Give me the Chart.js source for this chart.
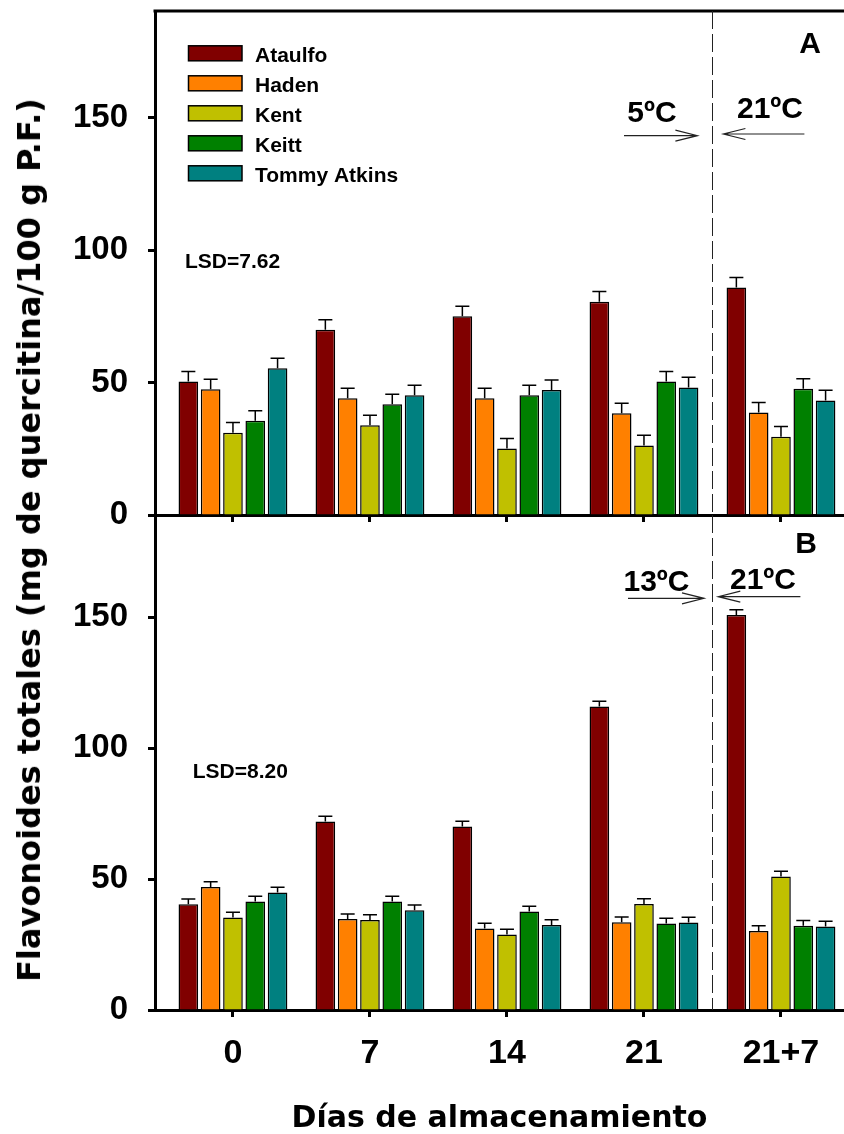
<!DOCTYPE html>
<html>
<head>
<meta charset="utf-8">
<script src="https://cdn.jsdelivr.net/npm/chart.js@4/dist/chart.umd.min.js"></script>
<style>
  html, body { margin: 0; padding: 0; background: #fff; }
  #wrap { position: relative; width: 844px; height: 1134px; overflow: hidden; background: #fff; }
  #cA { position: absolute; left: 0; top: 0; }
  #cB { position: absolute; left: 0; top: 500px; }
  #ytitle {
    position: absolute; left: 29px; top: 540px;
    transform: translate(-50%, -50%) rotate(-90deg);
    font: bold 32px "DejaVu Sans"; line-height: 1; white-space: nowrap; color: #000;
  }
</style>
</head>
<body>
<div id="wrap">
  <canvas id="cA" width="844" height="530"></canvas>
  <canvas id="cB" width="844" height="634"></canvas>
  <div id="ytitle">Flavonoides totales (mg de quercitina/100 g P.F.)</div>
</div>
<script>
// Storage days (x categories) and cultivars
const categories = ['0', '7', '14', '21', '21+7'];
const cultivars = ['Ataulfo', 'Haden', 'Kent', 'Keitt', 'Tommy Atkins'];
const colors = ['#800000', '#FF8000', '#C0C000', '#008000', '#008080'];
const yTicks = [0, 50, 100, 150];

// Panel A: 5 °C storage, then 21 °C
const ataulfoA = [50.4, 70.0, 75.1, 80.6, 85.9];
const hadenA   = [47.5, 44.1, 44.1, 38.4, 38.7];
const kentA    = [31.1, 33.9, 25.1, 26.3, 29.6];
const keittA   = [35.6, 41.8, 45.2, 50.4, 47.7];
const tommyA   = [55.4, 45.2, 47.2, 48.2, 43.3];
const errA     = [3.8, 3.8, 3.8, 3.8, 3.8];

// Panel B: 13 °C storage, then 21 °C
const ataulfoB = [40.4, 72.0, 70.1, 115.9, 150.8];
const hadenB   = [47.0, 34.7, 31.1, 33.5, 30.2];
const kentB    = [35.3, 34.4, 28.8, 40.5, 51.0];
const keittB   = [41.4, 41.4, 37.6, 33.0, 32.2];
const tommyB   = [44.9, 38.1, 32.5, 33.4, 31.9];
const errB     = [2.0, 2.0, 2.0, 2.0, 2.0];

// Divider between cold storage and ripening period (between "21" and "21+7")
const dividerAt = 3.5;

const FONT = '"Liberation Sans", Arial, sans-serif';

function makeSets(series) {
  return series.map((vals, s) => ({
    label: cultivars[s],
    data: vals.map((v, i) => ({ x: i, y: v })),
    backgroundColor: colors[s],
    borderColor: '#000',
    borderWidth: 1.5,
    borderSkipped: 'start',
    categoryPercentage: 0.814,
    barPercentage: 0.88
  }));
}

// Upper error bars (T caps)
function errorBars(err) {
  return {
    id: 'errorBars',
    afterDatasetsDraw(chart) {
      const { ctx, scales: { y } } = chart;
      ctx.save();
      ctx.strokeStyle = '#000';
      ctx.lineWidth = 1.5;
      chart.data.datasets.forEach((ds, i) => {
        const meta = chart.getDatasetMeta(i);
        meta.data.forEach((bar, j) => {
          const top = y.getPixelForValue(ds.data[j].y + err[j]);
          ctx.beginPath();
          ctx.moveTo(bar.x, bar.y);
          ctx.lineTo(bar.x, top);
          ctx.moveTo(bar.x - 7, top);
          ctx.lineTo(bar.x + 7, top);
          ctx.stroke();
        });
      });
      ctx.restore();
    }
  };
}

function arrow(ctx, x0, x1, y) {
  const dir = Math.sign(x1 - x0);
  ctx.beginPath();
  ctx.moveTo(x0, y);
  ctx.lineTo(x1, y);
  ctx.moveTo(x1 - dir * 22, y - 5.5);
  ctx.lineTo(x1, y);
  ctx.lineTo(x1 - dir * 22, y + 5.5);
  ctx.stroke();
}

// Panel letter, LSD note, temperature divider with arrows
function decor(cfg) {
  return {
    id: 'decor',
    afterDraw(chart) {
      const { ctx, chartArea: { left, right, top, bottom }, scales: { x } } = chart;
      const D = Math.round(x.getPixelForValue(dividerAt));
      ctx.save();
      if (cfg.frameTop) {
        ctx.strokeStyle = '#000';
        ctx.lineWidth = 3;
        ctx.beginPath();
        ctx.moveTo(left - 1.5, top);
        ctx.lineTo(right, top);
        ctx.stroke();
      }
      ctx.strokeStyle = '#222';
      ctx.lineWidth = 1;
      ctx.setLineDash([18, 5]);
      ctx.beginPath();
      ctx.moveTo(D + 0.5, top);
      ctx.lineTo(D + 0.5, bottom);
      ctx.stroke();
      ctx.setLineDash([]);
      ctx.strokeStyle = '#222';
      ctx.lineWidth = 1.2;
      arrow(ctx, D + cfg.arrowIn[0], D + cfg.arrowIn[1], top + cfg.arrowIn[2]);
      arrow(ctx, D + cfg.arrowOut[0], D + cfg.arrowOut[1], top + cfg.arrowOut[2]);

      ctx.fillStyle = '#000';
      ctx.textBaseline = 'alphabetic';
      ctx.textAlign = 'center';
      ctx.font = 'bold 30px ' + FONT;
      ctx.fillText(cfg.letter, cfg.letterPos[0], top + cfg.letterPos[1]);
      ctx.fillText(cfg.tempCold, cfg.coldPos[0], top + cfg.coldPos[1]);
      ctx.fillText(cfg.tempRipe, cfg.ripePos[0], top + cfg.ripePos[1]);
      ctx.textAlign = 'left';
      ctx.font = 'bold 21px ' + FONT;
      ctx.fillText(cfg.lsd, cfg.lsdPos[0], top + cfg.lsdPos[1]);
      ctx.restore();
    }
  };
}

// Legend drawn inside the upper panel
const boxLegend = {
  id: 'boxLegend',
  afterDraw(chart) {
    const { ctx, chartArea: { top } } = chart;
    ctx.save();
    ctx.font = 'bold 21px ' + FONT;
    ctx.textAlign = 'left';
    ctx.textBaseline = 'alphabetic';
    chart.data.datasets.forEach((ds, i) => {
      const cy = top + 42.3 + 30 * i;
      ctx.fillStyle = ds.backgroundColor;
      ctx.fillRect(188.5, cy - 7.5, 53.5, 15);
      ctx.strokeStyle = '#000';
      ctx.lineWidth = 1.5;
      ctx.strokeRect(188.5, cy - 7.5, 53.5, 15);
      ctx.fillStyle = '#000';
      ctx.fillText(ds.label, 255, cy + 8.3);
    });
    ctx.restore();
  }
};

function scalesFor(showX, yMax) {
  const axisGrid = {
    drawOnChartArea: false, drawTicks: true, tickLength: 7,
    tickWidth: 3, tickColor: '#000', color: '#000', offset: false
  };
  const axisBorder = { display: true, color: '#000', width: 3 };
  return {
    x: {
      type: 'linear', min: -0.569, max: 4.46, bounds: 'data', offset: false,
      afterBuildTicks: s => { s.ticks = categories.map((c, i) => ({ value: i })); },
      ticks: {
        display: showX, autoSkip: false, maxRotation: 0, color: '#000', padding: 16,
        font: { family: FONT, weight: 'bold', size: 34 },
        callback: v => categories[v]
      },
      grid: axisGrid,
      border: axisBorder,
      title: {
        display: showX, text: 'Días de almacenamiento', color: '#000',
        font: { family: '"DejaVu Sans"', weight: 'bold', size: 30, lineHeight: 1.0 },
        padding: { top: 0, bottom: 0 }
      },
      afterFit: s => { s.height = showX ? 124 : 15; s.paddingLeft = 0; s.paddingRight = 0; }
    },
    y: {
      min: 0, max: yMax,
      afterBuildTicks: s => { s.ticks = yTicks.map(v => ({ value: v })); },
      ticks: { color: '#000', padding: 20, font: { family: FONT, weight: 'bold', size: 33 } },
      grid: axisGrid,
      border: axisBorder,
      afterFit: s => { s.width = 155; s.paddingTop = 0; s.paddingBottom = 0; }
    }
  };
}

new Chart(document.getElementById('cA'), {
  type: 'bar',
  data: { datasets: makeSets([ataulfoA, hadenA, kentA, keittA, tommyA]) },
  options: {
    responsive: false, animation: false,
    layout: { padding: { top: 11, left: 0, right: 0, bottom: 0 } },
    plugins: { legend: { display: false }, tooltip: { enabled: false } },
    scales: scalesFor(false, 190.4)
  },
  plugins: [errorBars(errA), boxLegend, decor({
    frameTop: true, letter: 'A', letterPos: [810, 42],
    lsd: 'LSD=7.62', lsdPos: [185, 257.3],
    tempCold: '5ºC', coldPos: [652, 110.7],
    tempRipe: '21ºC', ripePos: [770, 107.3],
    arrowIn: [-88, -14.6, 124.7], arrowOut: [92.4, 11.4, 123]
  })]
});

new Chart(document.getElementById('cB'), {
  type: 'bar',
  data: { datasets: makeSets([ataulfoB, hadenB, kentB, keittB, tommyB]) },
  options: {
    responsive: false, animation: false,
    layout: { padding: { top: 15, left: 0, right: 0, bottom: 0 } },
    plugins: { legend: { display: false }, tooltip: { enabled: false } },
    scales: scalesFor(true, 189)
  },
  plugins: [errorBars(errB), decor({
    frameTop: false, letter: 'B', letterPos: [806, 38.3],
    lsd: 'LSD=8.20', lsdPos: [192.7, 263.3],
    tempCold: '13ºC', coldPos: [656.5, 75.7],
    tempRipe: '21ºC', ripePos: [763, 74],
    arrowIn: [-84, -8, 83.3], arrowOut: [88.4, 6.3, 81.7]
  })]
});
</script>
</body>
</html>
